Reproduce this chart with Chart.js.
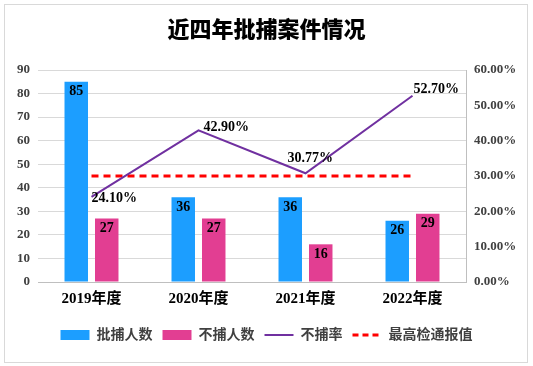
<!DOCTYPE html>
<html><head><meta charset="utf-8">
<script src="https://cdn.jsdelivr.net/npm/chart.js@4/dist/chart.umd.min.js"></script>
<style>html,body{margin:0;padding:0;background:#fff;}#wrap{width:533px;height:366px;position:relative;}</style>
</head><body><div id="wrap"><canvas id="c" width="533" height="366"></canvas></div>
<script>
const categories = ['2019年度', '2020年度', '2021年度', '2022年度'];
const approvedCounts = [85, 36, 36, 26];
const rejectedCounts = [27, 27, 16, 29];
const rejectRate = [0.241, 0.429, 0.3077, 0.527];
const benchmarkRate = [0.30, 0.30, 0.30, 0.30];
const seriesNames = ['批捕人数', '不捕人数', '不捕率', '最高检通报值'];
const chartTitle = '近四年批捕案件情况';

const FONT = "'Liberation Serif', 'Noto Sans CJK SC', serif";
const BLUE = '#1C9EFF', PINK = '#E23E92', PURPLE = '#7030A0', RED = '#FF0000';

const pct = v => (v * 100).toFixed(2) + '%';

const bgPlugin = {
  id: 'bg',
  beforeDraw(chart) {
    const ctx = chart.ctx;
    ctx.save();
    ctx.fillStyle = '#fff';
    ctx.fillRect(0, 0, chart.width, chart.height);
    ctx.strokeStyle = '#D9D9D9';
    ctx.lineWidth = 1;
    ctx.strokeRect(4.5, 4.5, 523, 358);
    ctx.restore();
  }
};

const labelPlugin = {
  id: 'valLabels',
  afterDatasetsDraw(chart, args, opts) {
    const ctx = chart.ctx;
    ctx.save();
    ctx.fillStyle = '#000';
    ctx.font = 'bold 14px ' + FONT;
    [0, 1].forEach(di => {
      const meta = chart.getDatasetMeta(di);
      meta.data.forEach((el, i) => {
        ctx.textAlign = 'center';
        ctx.textBaseline = 'middle';
        ctx.fillText(String(chart.data.datasets[di].data[i]), el.x, el.y + 10);
      });
    });
    const meta = chart.getDatasetMeta(2);
    meta.data.forEach((el, i) => {
      const o = opts.offsets[i];
      ctx.textAlign = 'left';
      ctx.textBaseline = 'middle';
      ctx.fillText(pct(chart.data.datasets[2].data[i]), el.x + o[0], el.y + o[1]);
    });
    ctx.restore();
  }
};

new Chart(document.getElementById('c'), {
  data: {
    labels: categories,
    datasets: [
      { type: 'bar', label: seriesNames[0], data: approvedCounts, backgroundColor: BLUE, yAxisID: 'y', order: 2,
        categoryPercentage: 0.57, barPercentage: 0.77 },
      { type: 'bar', label: seriesNames[1], data: rejectedCounts, backgroundColor: PINK, yAxisID: 'y', order: 2,
        categoryPercentage: 0.57, barPercentage: 0.77 },
      { type: 'line', label: seriesNames[2], data: rejectRate, borderColor: PURPLE, borderWidth: 2, pointRadius: 0,
        yAxisID: 'y1', order: 1, tension: 0 },
      { type: 'line', label: seriesNames[3], data: benchmarkRate, borderColor: RED, borderWidth: 3, borderDash: [7, 5],
        pointRadius: 0, yAxisID: 'y1', order: 1 }
    ]
  },
  options: {
    responsive: false,
    animation: false,
    devicePixelRatio: 1,
    layout: { padding: { left: 0, right: 0, top: 0, bottom: 14 } },
    scales: {
      x: {
        grid: { display: false, drawTicks: false },
        border: { display: true, color: '#BFBFBF' },
        ticks: { padding: 8, color: '#000', font: { family: FONT, size: 15, weight: 'bold' } },
        afterFit(s) { s.height = 36; }
      },
      y: {
        position: 'left', min: 0, max: 90,
        ticks: { stepSize: 10, padding: 8, color: '#404040', font: { family: FONT, size: 13, weight: 'bold' } },
        grid: { color: '#D9D9D9', drawTicks: false },
        border: { display: false },
        afterFit(s) { s.width = 38; }
      },
      y1: {
        position: 'right', min: 0, max: 0.6,
        ticks: { stepSize: 0.1, padding: 8, color: '#404040', font: { family: FONT, size: 13, weight: 'bold' },
          callback: v => pct(v) },
        grid: { display: false, drawTicks: false },
        border: { display: true, color: '#BFBFBF' },
        afterFit(s) { s.width = 67; }
      }
    },
    plugins: {
      tooltip: { enabled: false },
      title: {
        display: true, text: chartTitle, color: '#000',
        font: { family: "'Noto Sans CJK SC', sans-serif", size: 22, weight: '900' },
        padding: { top: 15, bottom: 28.6 }
      },
      legend: {
        position: 'bottom',
        labels: {
          usePointStyle: true, pointStyleWidth: 29, boxHeight: 10, padding: 10,
          color: '#404040', font: { family: FONT, size: 14, weight: 'bold' },
          generateLabels(chart) {
            const ds = chart.data.datasets;
            return [
              { text: ds[0].label, fillStyle: BLUE, strokeStyle: BLUE, lineWidth: 0, pointStyle: 'rect', datasetIndex: 0, fontColor: '#404040' },
              { text: ds[1].label, fillStyle: PINK, strokeStyle: PINK, lineWidth: 0, pointStyle: 'rect', datasetIndex: 1, fontColor: '#404040' },
              { text: ds[2].label, fillStyle: PURPLE, strokeStyle: PURPLE, lineWidth: 2, pointStyle: 'line', datasetIndex: 2, fontColor: '#404040' },
              { text: ds[3].label, fillStyle: RED, strokeStyle: RED, lineWidth: 3, lineDash: [6, 4], pointStyle: 'line', datasetIndex: 3, fontColor: '#404040' }
            ];
          }
        }
      },
      valLabels: { offsets: [[0, 2], [5, -3], [-18, -15], [1, -6]] }
    }
  },
  plugins: [bgPlugin, labelPlugin]
});
</script></body></html>
